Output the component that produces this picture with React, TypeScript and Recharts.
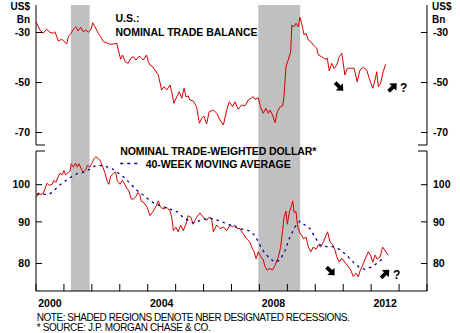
import React from 'react';
import { LineChart, Line, XAxis, YAxis, ReferenceArea } from 'recharts';

// ---------- data ----------
const tradeYears = [
  2000.00,2000.14,2000.26,2000.38,2000.50,2000.62,2000.68,2000.80,2000.92,2001.00,
  2001.10,2001.16,2001.25,2001.34,2001.43,2001.51,2001.60,2001.69,2001.79,2001.87,
  2001.96,2002.03,2002.11,2002.23,2002.32,2002.41,2002.53,2002.65,2002.77,2002.89,
  2002.95,2003.03,2003.10,2003.19,2003.30,2003.39,2003.48,2003.58,2003.70,2003.78,
  2003.84,2003.96,2004.02,2004.08,2004.18,2004.26,2004.38,2004.50,2004.58,2004.68,
  2004.80,2004.86,2004.94,2005.04,2005.13,2005.22,2005.30,2005.37,2005.45,2005.51,
  2005.63,2005.75,2005.85,2005.93,2006.01,2006.11,2006.20,2006.35,2006.47,2006.59,
  2006.71,2006.83,2006.92,2007.04,2007.12,2007.24,2007.36,2007.48,2007.60,2007.69,
  2007.78,2007.84,2007.96,2008.04,2008.14,2008.23,2008.32,2008.38,2008.47,2008.56,
  2008.64,2008.74,2008.83,2008.88,2008.95,2009.03,2009.12,2009.16,2009.24,2009.31,
  2009.39,2009.45,2009.51,2009.60,2009.67,2009.75,2009.84,2009.93,2010.05,2010.11,
  2010.23,2010.35,2010.43,2010.50,2010.59,2010.67,2010.77,2010.86,2010.95,2011.06,
  2011.15,2011.27,2011.39,2011.50,2011.60,2011.72,2011.84,2011.93,2012.06,2012.14,
  2012.20,2012.26,2012.34,2012.43,2012.52,
];
const tradeBalance = [
  -25.7,-29.0,-30.3,-28.7,-29.9,-30.3,-29.7,-33.4,-32.7,-33.5,
  -34.6,-31.7,-30.3,-28.7,-27.7,-29.4,-27.9,-29.7,-29.0,-29.9,
  -29.0,-26.1,-27.7,-30.3,-31.7,-33.7,-34.1,-34.7,-34.6,-34.3,
  -37.0,-40.7,-39.0,-41.7,-42.3,-40.3,-39.7,-41.0,-39.4,-40.3,
  -41.0,-39.0,-41.7,-43.0,-43.7,-45.0,-47.0,-53.0,-51.7,-53.0,
  -51.0,-53.7,-58.3,-55.7,-53.7,-56.3,-52.3,-55.7,-55.4,-57.0,
  -57.4,-59.7,-66.3,-64.3,-63.4,-66.6,-61.7,-61.0,-62.3,-65.0,
  -67.0,-61.0,-57.7,-59.7,-57.7,-60.7,-59.0,-59.4,-57.0,-56.3,
  -55.7,-56.7,-56.1,-59.7,-62.3,-60.3,-62.3,-61.0,-63.0,-66.1,
  -61.7,-59.7,-59.4,-55.7,-43.7,-41.0,-37.7,-27.0,-27.7,-26.3,
  -27.7,-23.9,-26.3,-31.0,-30.3,-33.0,-33.7,-35.0,-36.3,-39.0,
  -39.7,-40.7,-40.3,-45.4,-42.3,-44.3,-43.0,-39.7,-38.3,-47.0,
  -44.3,-44.3,-44.3,-49.7,-45.0,-43.9,-45.0,-48.3,-52.3,-49.0,
  -45.7,-51.7,-50.3,-45.7,-42.7,
];

const dollarYears = [
  2000.03,2000.07,2000.17,2000.26,2000.35,2000.40,2000.47,2000.58,2000.64,2000.71,
  2000.79,2000.86,2000.94,2001.00,2001.06,2001.12,2001.22,2001.26,2001.34,2001.42,
  2001.48,2001.54,2001.62,2001.69,2001.78,2001.84,2001.93,2002.02,2002.08,2002.14,
  2002.22,2002.29,2002.37,2002.46,2002.55,2002.61,2002.67,2002.77,2002.85,2002.91,
  2003.01,2003.09,2003.18,2003.25,2003.33,2003.41,2003.48,2003.57,2003.65,2003.72,
  2003.77,2003.87,2003.98,2004.08,2004.20,2004.30,2004.38,2004.44,2004.54,2004.68,
  2004.80,2004.86,2004.92,2005.01,2005.09,2005.18,2005.27,2005.37,2005.45,2005.54,
  2005.63,2005.75,2005.87,2005.99,2006.11,2006.20,2006.29,2006.35,2006.47,2006.59,
  2006.71,2006.83,2006.95,2007.04,2007.12,2007.21,2007.30,2007.42,2007.54,2007.66,
  2007.72,2007.81,2007.88,2007.96,2008.05,2008.14,2008.20,2008.28,2008.38,2008.47,
  2008.56,2008.68,2008.76,2008.83,2008.88,2008.95,2009.00,2009.07,2009.15,2009.19,
  2009.24,2009.31,2009.36,2009.39,2009.45,2009.51,2009.57,2009.67,2009.75,2009.84,
  2009.93,2010.03,2010.11,2010.19,2010.29,2010.38,2010.44,2010.53,2010.62,2010.71,
  2010.77,2010.86,2010.95,2011.06,2011.18,2011.27,2011.36,2011.46,2011.54,2011.60,
  2011.66,2011.74,2011.82,2011.90,2011.98,2012.06,2012.14,2012.22,2012.32,2012.41,
  2012.50,2012.61,
];
const dollarIndex = [
  96.6,97.7,97.3,97.5,99.5,100.4,99.8,100.1,101.2,100.7,
  102.2,103.3,102.8,104.1,102.8,103.3,103.9,106.1,105.1,106.3,
  105.1,106.1,104.6,103.6,104.3,105.6,105.1,106.6,107.7,108.2,
  107.7,107.2,105.6,103.6,101.0,100.1,102.4,103.2,103.7,101.1,
  100.1,101.2,100.1,99.0,98.2,96.0,96.0,96.6,97.8,97.1,
  95.4,95.0,93.8,91.6,92.8,94.1,95.5,94.1,93.3,93.8,
  92.8,91.2,87.8,88.7,87.5,89.2,87.8,89.4,91.6,91.2,
  89.4,91.2,92.3,91.2,90.4,91.2,90.8,87.5,89.2,88.3,
  88.7,87.8,89.2,88.7,89.2,88.3,88.3,87.0,85.8,85.0,
  83.8,82.7,81.1,82.7,81.5,80.8,79.3,78.5,78.9,78.5,
  79.6,81.5,83.8,87.8,91.2,92.8,89.4,92.5,94.2,95.5,
  92.5,92.6,89.4,88.3,87.2,86.7,85.8,86.2,83.8,82.7,
  83.8,83.3,84.3,83.8,85.0,86.6,87.5,85.0,84.4,83.0,
  81.5,80.3,81.2,80.3,79.3,78.5,77.1,77.8,77.0,78.3,
  79.1,80.3,81.5,82.7,81.9,80.3,81.9,81.0,81.5,83.8,
  83.0,81.9,
];

const maYears = [
  2000.03,2000.47,2000.64,2000.82,2001.06,2001.24,2001.48,2001.72,2001.96,2002.14,
  2002.26,2002.50,2002.73,2002.91,2003.15,2003.39,2003.63,2003.87,2004.11,2004.44,
  2004.80,2005.09,2005.27,2005.63,2005.99,2006.23,2006.59,2006.95,2007.30,2007.66,
  2007.84,2008.02,2008.20,2008.38,2008.56,2008.74,2008.92,2009.09,2009.27,2009.45,
  2009.63,2009.81,2009.99,2010.17,2010.41,2010.64,2010.88,2011.12,2011.36,2011.60,
  2011.78,2012.02,2012.26,2012.50,
];
const maValues = [
  97.3,97.3,98.3,99.7,101.1,102.1,103.2,103.6,104.6,105.6,
  105.6,105.3,104.6,103.6,102.1,100.2,98.3,96.9,95.4,94.2,
  93.3,92.5,91.1,89.7,90.6,91.0,90.2,89.2,88.3,87.7,
  86.6,84.2,82.3,81.1,80.3,80.8,83.0,86.2,88.7,90.2,
  89.2,88.3,86.2,84.3,83.9,83.9,83.2,81.9,80.3,79.0,
  78.7,79.2,80.3,81.5,
];

const recessionStarts = [2001.25, 2007.96];
const recessionEnds = [2001.92, 2009.46];

const yearTicks = [2000,2001,2002,2003,2004,2005,2006,2007,2008,2009,2010,2011,2012,2013,2014];
const yearLabels = [2000, 2004, 2008, 2012];
const tradeTickLabels = [-70, -50, -30];
const dollarTickLabels = [80, 90, 100];
const tradeDomain = [-75, -19];
const dollarDomain = [74, 110];
const xDomain = [2000, 2014];

const tradeData = tradeYears.map((year, i) => ({ year, v: tradeBalance[i] }));
const dollarData = dollarYears.map((year, i) => ({ year, v: dollarIndex[i] }));
const maData = maYears.map((year, i) => ({ year, v: maValues[i] }));

// ---------- styles ----------
const FONT = '"Liberation Sans", Arial, Helvetica, sans-serif';
const RED = '#d40000';
const BLUE = '#000090';
const GRAY = '#c0c0c0';

const makeYTick = (labels: number[], side: 'left' | 'right') => (props: any) => {
  const { x, y, payload } = props;
  const v = payload.value;
  const show = labels.includes(v);
  const len = show ? 6 : 9;
  const dir = side === 'left' ? 1 : -1;
  return (
    <g>
      <line x1={x} x2={x + dir * len} y1={y} y2={y} stroke="#000" strokeWidth={1} />
      {show && (
        <text
          x={side === 'left' ? x - 6 : x + 6}
          y={y}
          dy="0.36em"
          textAnchor={side === 'left' ? 'end' : 'start'}
          fontFamily={FONT}
          fontWeight="bold"
          fontSize={10.5}
          fill="#000"
        >
          {v}
        </text>
      )}
    </g>
  );
};

const XTick = (props: any) => {
  const { x, y, payload } = props;
  const v = payload.value;
  if (Number.isInteger(v)) {
    return <line x1={x} x2={x} y1={y} y2={y - 7} stroke="#000" strokeWidth={1} />;
  }
  return (
    <text x={x} y={y + 16} textAnchor="middle" fontFamily={FONT} fontWeight="bold" fontSize={10.5} fill="#000">
      {Math.floor(v)}
    </text>
  );
};

const xTickValues = [...yearTicks, ...yearLabels.map((y) => y + 0.5)].sort((a, b) => a - b);

const T = (p: any) => (
  <text fontFamily={FONT} fill="#000" {...p} />
);

// heavy arrow glyph (annotation), drawn pointing right then rotated
const Arrow = ({ cx, cy, angle }: { cx: number; cy: number; angle: number }) => (
  <path
    d="M-5.5,-1.9 L0.5,-1.9 L0.5,-5 L6,0 L0.5,5 L0.5,1.9 L-5.5,1.9 Z"
    fill="#000"
    transform={`translate(${cx},${cy}) rotate(${angle})`}
  />
);

export default function App() {
  return (
    <div style={{ position: 'absolute', left: 0, top: 0, width: 460, height: 333, background: '#fff' }}>
      <div style={{ position: 'absolute', left: 0, top: 0 }}>
        <LineChart width={460} height={152} margin={{ top: 5, right: 0, bottom: 7, left: 0 }}>
          <XAxis
            type="number"
            dataKey="year"
            domain={xDomain}
            allowDataOverflow
            orientation="top"
            height={0}
            tick={false}
            tickLine={false}
            axisLine={{ stroke: '#000' }}
          />
          <YAxis
            yAxisId="l"
            type="number"
            domain={tradeDomain}
            allowDataOverflow
            ticks={[tradeDomain[0], ...tradeTickLabels]}
            width={36}
            tickSize={0}
            tickMargin={0}
            interval={0}
            tick={makeYTick(tradeTickLabels, 'left')}
            axisLine={{ stroke: '#000' }}
          />
          <YAxis
            yAxisId="r"
            orientation="right"
            type="number"
            domain={tradeDomain}
            allowDataOverflow
            ticks={[tradeDomain[0], ...tradeTickLabels]}
            width={33}
            tickSize={0}
            tickMargin={0}
            interval={0}
            tick={makeYTick(tradeTickLabels, 'right')}
            axisLine={{ stroke: '#000' }}
          />
          {recessionStarts.map((s, i) => (
            <ReferenceArea
              key={i}
              yAxisId="l"
              x1={s}
              x2={recessionEnds[i]}
              y1={-77.4}
              y2={tradeDomain[1]}
              fill={GRAY}
              fillOpacity={1}
              stroke="none"
              ifOverflow="visible"
            />
          ))}
          <Line
            yAxisId="l"
            data={tradeData}
            dataKey="v"
            type="linear"
            stroke={RED}
            strokeWidth={1}
            dot={false}
            isAnimationActive={false}
          />
        </LineChart>
      </div>
      <div style={{ position: 'absolute', left: 0, top: 0 }}>
        <LineChart width={460} height={333} margin={{ top: 151, right: 0, bottom: 22, left: 0 }}>
          <XAxis
            type="number"
            dataKey="year"
            domain={xDomain}
            allowDataOverflow
            ticks={xTickValues}
            interval={0}
            height={20}
            tickSize={0}
            tickMargin={0}
            tick={<XTick />}
            axisLine={{ stroke: '#000' }}
          />
          <YAxis
            yAxisId="l"
            type="number"
            scale="log"
            domain={dollarDomain}
            allowDataOverflow
            ticks={[...dollarTickLabels, dollarDomain[1]]}
            width={36}
            tickSize={0}
            tickMargin={0}
            interval={0}
            tick={makeYTick(dollarTickLabels, 'left')}
            axisLine={{ stroke: '#000' }}
          />
          <YAxis
            yAxisId="r"
            orientation="right"
            type="number"
            scale="log"
            domain={dollarDomain}
            allowDataOverflow
            ticks={[...dollarTickLabels, dollarDomain[1]]}
            width={33}
            tickSize={0}
            tickMargin={0}
            interval={0}
            tick={makeYTick(dollarTickLabels, 'right')}
            axisLine={{ stroke: '#000' }}
          />
          {recessionStarts.map((s, i) => (
            <ReferenceArea
              key={i}
              yAxisId="l"
              x1={s}
              x2={recessionEnds[i]}
              y1={dollarDomain[0]}
              y2={dollarDomain[1]}
              fill={GRAY}
              fillOpacity={1}
              stroke="none"
            />
          ))}
          <Line
            yAxisId="l"
            data={dollarData}
            dataKey="v"
            type="linear"
            stroke={RED}
            strokeWidth={1}
            dot={false}
            isAnimationActive={false}
          />
          <Line
            yAxisId="l"
            data={maData}
            dataKey="v"
            type="linear"
            stroke={BLUE}
            strokeWidth={1.3}
            strokeDasharray="2.5 4"
            dot={false}
            isAnimationActive={false}
          />
        </LineChart>
      </div>
      <svg
        width={460}
        height={333}
        style={{ position: 'absolute', left: 0, top: 0, pointerEvents: 'none' }}
      >
        <T x={30} y={9.5} textAnchor="end" fontWeight="bold" fontSize={10}>US$</T>
        <T x={30} y={22.7} textAnchor="end" fontWeight="bold" fontSize={10}>Bn</T>
        <T x={432} y={9.8} fontWeight="bold" fontSize={10}>US$</T>
        <T x={432} y={23} fontWeight="bold" fontSize={10}>Bn</T>

        <T x={115.5} y={21.7} fontWeight="bold" fontSize={10.5}>U.S.:</T>
        <T x={115.5} y={35.7} fontWeight="bold" fontSize={10.5} textLength={142} lengthAdjust="spacing">NOMINAL TRADE BALANCE</T>

        <T x={120.3} y={155} fontWeight="bold" fontSize={10.5} textLength={196} lengthAdjust="spacing">NOMINAL TRADE-WEIGHTED DOLLAR*</T>
        <line x1={120.3} x2={141} y1={163.5} y2={163.5} stroke={BLUE} strokeWidth={1.3} strokeDasharray="3 4" />
        <T x={145.7} y={168.3} fontWeight="bold" fontSize={10.5} textLength={145} lengthAdjust="spacing">40-WEEK MOVING AVERAGE</T>

        <Arrow cx={339} cy={86.5} angle={45} />
        <Arrow cx={392.5} cy={87.5} angle={-45} />
        <T x={400} y={92} fontWeight="bold" fontSize={12}>?</T>

        <Arrow cx={330.5} cy={271} angle={45} />
        <Arrow cx={385} cy={274} angle={-45} />
        <T x={393} y={279} fontWeight="bold" fontSize={12}>?</T>

        <T x={36.7} y={320.7} fontSize={10} textLength={313} lengthAdjust="spacing">NOTE: SHADED REGIONS DENOTE NBER DESIGNATED RECESSIONS.</T>
        <T x={36.7} y={330.7} fontSize={10} textLength={174} lengthAdjust="spacing">* SOURCE: J.P. MORGAN CHASE &amp; CO.</T>
      </svg>
    </div>
  );
}
